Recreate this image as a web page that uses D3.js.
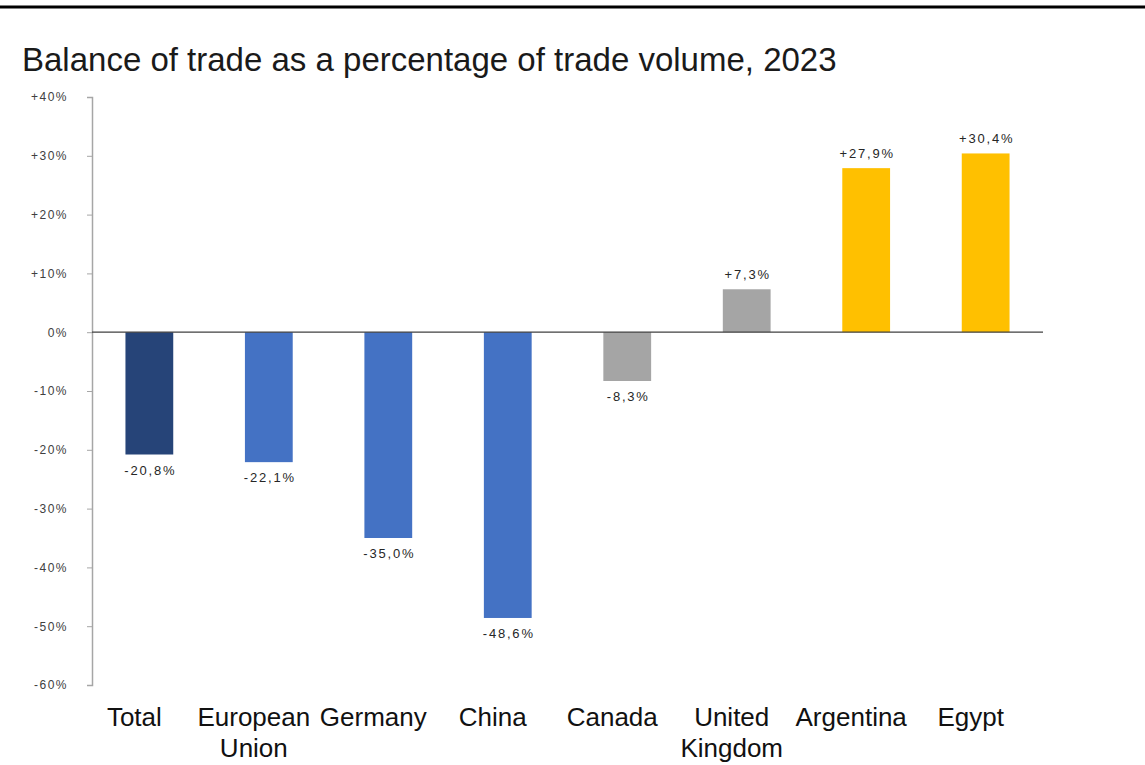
<!DOCTYPE html>
<html>
<head>
<meta charset="utf-8">
<script src="https://cdn.jsdelivr.net/npm/d3@7"></script>
<style>
  body { margin: 0; background: #fff; }
  text { font-family: "Liberation Sans", Arial, sans-serif; }
</style>
</head>
<body>
<svg id="chart" width="1145" height="765"></svg>
<script>
const categories = ["Total", "European Union", "Germany", "China", "Canada", "United Kingdom", "Argentina", "Egypt"];
const values = [-20.8, -22.1, -35.0, -48.6, -8.3, 7.3, 27.9, 30.4];
const groups = ["total", "blue", "blue", "blue", "grey", "grey", "gold", "gold"];
const yTicks = [40, 30, 20, 10, 0, -10, -20, -30, -40, -50, -60];

const colors = { total: "#264478", blue: "#4472C4", grey: "#A5A5A5", gold: "#FFC000" };

const svg = d3.select("#chart");

// rule across the top
svg.append("line")
  .attr("x1", 0).attr("x2", 1145)
  .attr("y1", 7).attr("y2", 7)
  .attr("stroke", "#000").attr("stroke-width", 3);

svg.append("text")
  .attr("x", 22).attr("y", 71)
  .attr("font-size", 33)
  .attr("fill", "#1a1a1a")
  .text("Balance of trade as a percentage of trade volume, 2023");

const x = d3.scaleBand()
  .domain(categories)
  .range([92, 1043])
  .paddingInner(0.6)
  .paddingOuter(0.28);

const y = d3.scaleLinear()
  .domain([-60, 40])
  .range([685, 97]);

// plain hyphen, not the unicode minus d3 uses
const fmt = v => (v > 0 ? "+" : v < 0 ? "-" : "") + Math.abs(v) + "%";
const fmtVal = v => ((v > 0 ? "+" : "-") + Math.abs(v).toFixed(1)).replace(".", ",") + "%";

// y axis
const yAxis = svg.append("g")
  .attr("transform", "translate(92,0)")
  .call(d3.axisLeft(y).tickValues(yTicks).tickFormat(fmt).tickSize(5).tickPadding(19));
yAxis.select(".domain").attr("stroke", "#a6a6a6").attr("stroke-width", 1.5);
yAxis.selectAll(".tick line").attr("stroke", "#a6a6a6");
yAxis.selectAll(".tick text")
  .attr("font-size", 12)
  .attr("letter-spacing", 1.5)
  .attr("fill", "#404040")
  .style("font-family", "'Liberation Sans', Arial, sans-serif");

// bars
svg.append("g")
  .selectAll("rect")
  .data(values)
  .join("rect")
  .attr("x", (d, i) => x(categories[i]))
  .attr("width", x.bandwidth())
  .attr("y", d => y(Math.max(0, d)))
  .attr("height", d => Math.abs(y(d) - y(0)))
  .attr("fill", (d, i) => colors[groups[i]]);

// zero line
svg.append("line")
  .attr("x1", 92).attr("x2", 1043)
  .attr("y1", y(0)).attr("y2", y(0))
  .attr("stroke", "#404040").attr("stroke-width", 1.2);

// value labels
svg.append("g")
  .selectAll("text")
  .data(values)
  .join("text")
  .attr("x", (d, i) => x(categories[i]) + x.bandwidth() / 2 + 1)
  .attr("y", d => d < 0 ? y(d) + 20 : y(d) - 10)
  .attr("text-anchor", "middle")
  .attr("font-size", 13)
  .attr("letter-spacing", 1.8)
  .attr("fill", "#262626")
  .text(fmtVal);

// category labels
const xAxis = svg.append("g")
  .attr("transform", "translate(0,700)")
  .call(d3.axisBottom(x).tickSize(0).tickPadding(0));
xAxis.select(".domain").remove();
xAxis.selectAll(".tick text")
  .attr("font-size", 26)
  .attr("fill", "#111")
  .style("font-family", "'Liberation Sans', Arial, sans-serif")
  .attr("dy", null)
  .each(function(d) {
    const t = d3.select(this);
    const words = d.split(" ");
    t.text(null);
    words.forEach((w, k) => {
      t.append("tspan")
        .attr("x", -15)
        .attr("y", 26 + k * 31)
        .text(w);
    });
  });
</script>
</body>
</html>
